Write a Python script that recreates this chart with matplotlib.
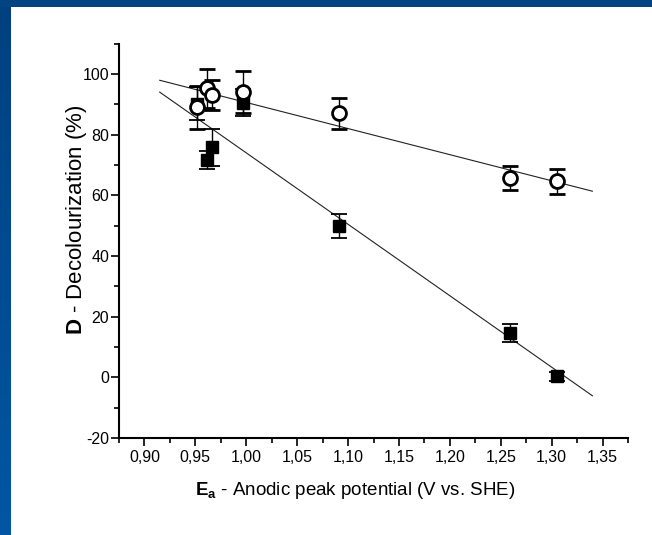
import matplotlib
matplotlib.use("Agg")
import matplotlib.pyplot as plt
import numpy as np
from matplotlib.ticker import FuncFormatter, MultipleLocator

plt.rcParams.update({
    "font.family": "Liberation Sans",
    "mathtext.fontset": "custom",
    "mathtext.rm": "Liberation Sans",
    "mathtext.bf": "Liberation Sans:bold",
    "font.size": 11.5,
})

# anodic peak potential (V vs. SHE) of the dyes
potential = [0.952, 0.961, 0.966, 0.997, 1.091, 1.259, 1.305]
# decolourization (%) - filled squares
decol_sq = [90.2, 71.6, 75.8, 90.6, 49.8, 14.6, 0.4]
err_sq = [5.5, 3.0, 6.0, 4.5, 4.0, 3.0, 1.5]
# decolourization (%) - open circles
decol_ci = [89.0, 95.3, 93.0, 94.1, 87.0, 65.7, 64.6]
err_ci = [7.0, 6.5, 5.0, 7.0, 5.0, 4.0, 4.0]

fig = plt.figure(figsize=(6.52, 5.35), dpi=100)

# blue frame on top and left
band = fig.add_axes([0, 0, 11 / 652, 1])
grad = np.linspace(0, 1, 256).reshape(-1, 1)
band.imshow(grad, aspect="auto", cmap=matplotlib.colors.LinearSegmentedColormap.from_list(
    "b", ["#004080", "#0057a3"]), extent=[0, 1, 0, 1])
band.axis("off")
top = fig.add_axes([0, 1 - 7 / 535, 1, 7 / 535])
top.set_facecolor("#024382")
top.set_xticks([])
top.set_yticks([])
for s in top.spines.values():
    s.set_visible(False)

ax = fig.add_axes([119 / 652, 97 / 535, 509 / 652, 394.3 / 535])

# linear fits drawn over the measured range
xfit = np.array([0.915, 1.34])
for yv in (decol_sq, decol_ci):
    k, b = np.polyfit(potential, yv, 1)
    ax.plot(xfit, k * xfit + b, color="#222222", lw=0.8, zorder=1)

ax.errorbar(potential, decol_sq, yerr=err_sq, fmt="s", ms=9, color="black",
            mfc="black", mec="black", ecolor="black", elinewidth=1.0,
            capsize=6, capthick=1.3, zorder=2)
ax.errorbar(potential, decol_ci, yerr=err_ci, fmt="o", ms=10, color="black",
            mfc="white", mec="black", mew=2.0, ecolor="black", elinewidth=1.0,
            capsize=6, capthick=1.3, zorder=3)

ax.set_xlim(0.875, 1.375)
ax.set_ylim(-20, 110)
ax.xaxis.set_minor_locator(MultipleLocator(0.025))
ax.yaxis.set_minor_locator(MultipleLocator(10))
ax.set_xticks([0.90, 0.95, 1.00, 1.05, 1.10, 1.15, 1.20, 1.25, 1.30, 1.35])
ax.set_yticks([-20, 0, 20, 40, 60, 80, 100])
ax.xaxis.set_major_formatter(FuncFormatter(lambda v, p: f"{v:.2f}".replace(".", ",")))
ax.yaxis.set_major_formatter(FuncFormatter(lambda v, p: f"{v:.0f}"))

for side in ("top", "right"):
    ax.spines[side].set_visible(False)
for side in ("left", "bottom"):
    ax.spines[side].set_linewidth(1.5)
ax.tick_params(which="major", direction="out", length=5.5, width=1.2)
ax.tick_params(which="minor", direction="out", length=3.5, width=1.2)
ax.tick_params(axis="y", pad=1.5)
ax.tick_params(axis="x", pad=3)

ax.set_xlabel(r"$\mathbf{E_a}$ - Anodic peak potential (V vs. SHE)", fontsize=13.5)
ax.set_ylabel(r"$\mathbf{D}$ - Decolourization (%)", fontsize=16)
ax.xaxis.set_label_coords(0.465, -0.106)
ax.yaxis.set_label_coords(-0.058, 0.553)

fig.savefig("out.png", dpi=100)
